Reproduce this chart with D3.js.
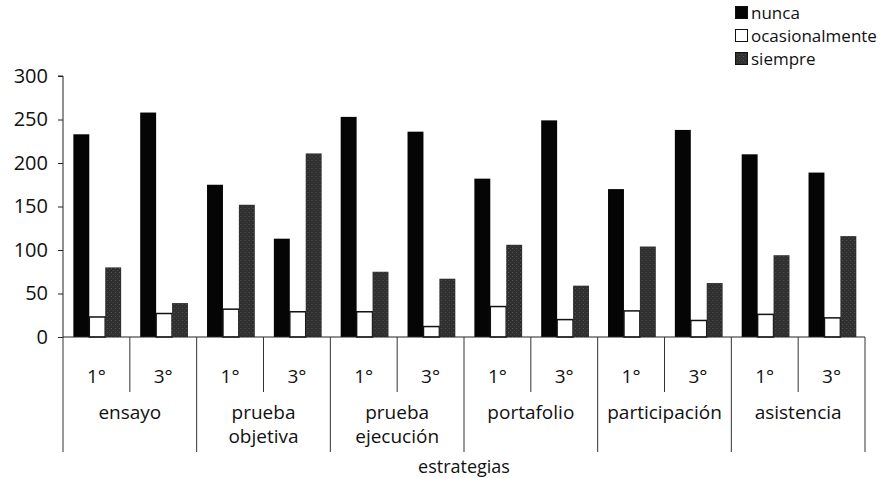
<!DOCTYPE html>
<html>
<head>
<meta charset="utf-8">
<script src="https://cdn.jsdelivr.net/npm/d3@7"></script>
<style>
  body { margin: 0; background: #fff; }
  svg { display: block; }
  text { font-family: "Open Sans", Lato, sans-serif; fill: #111; }
</style>
</head>
<body>
<svg id="chart" width="880" height="478"></svg>
<script>
const strategies = ["ensayo", "prueba objetiva", "prueba ejecución", "portafolio", "participación", "asistencia"];
const grades = ["1°", "3°"];
const seriesNames = ["nunca", "ocasionalmente", "siempre"];
const nunca          = [233, 258, 175, 113, 253, 236, 182, 249, 170, 238, 210, 189];
const ocasionalmente = [23, 27, 32, 29, 29, 12, 35, 20, 30, 19, 26, 22];
const siempre        = [80, 39, 152, 211, 75, 67, 106, 59, 104, 62, 94, 116];
const yTicks = [0, 50, 100, 150, 200, 250, 300];
const xTitle = "estrategias";

const seriesValues = [nunca, ocasionalmente, siempre];
const fills = ["#050505", "#ffffff", "#333"];

const svg = d3.select("#chart");
const margin = {left: 63, right: 15, top: 76, bottom: 141};
const W = 880, H = 478;
const plotBottom = H - margin.bottom;

const cats = [];
strategies.forEach(s => grades.forEach(g => cats.push(s + "|" + g)));

const x = d3.scaleBand().domain(cats).range([margin.left, W - margin.right]).padding(0);
const x1 = d3.scaleBand().domain(seriesNames).range([x.bandwidth() * 0.155, x.bandwidth() * 0.87]).padding(0);
const y = d3.scaleLinear().domain([0, 300]).range([plotBottom, margin.top]);

const defs = svg.append("defs");
const pat = defs.append("pattern").attr("id", "grain").attr("width", 4).attr("height", 4).attr("patternUnits", "userSpaceOnUse");
pat.append("rect").attr("width", 4).attr("height", 4).attr("fill", "#2f2f2f");
pat.append("rect").attr("x", 0).attr("y", 0).attr("width", 1).attr("height", 1).attr("fill", "#555");
pat.append("rect").attr("x", 2).attr("y", 2).attr("width", 1).attr("height", 1).attr("fill", "#474747");

const groups = svg.append("g").selectAll("g").data(cats).join("g")
  .attr("transform", d => `translate(${x(d)},0)`);
groups.selectAll("rect").data((d, i) => seriesNames.map((s, k) => ({s, v: seriesValues[k][i], k})))
  .join("rect")
  .attr("x", d => x1(d.s))
  .attr("width", x1.bandwidth())
  .attr("y", d => y(d.v))
  .attr("height", d => plotBottom - y(d.v))
  .attr("fill", d => d.k === 2 ? "url(#grain)" : fills[d.k])
  .attr("stroke", d => d.k === 1 ? "#111" : "none")
  .attr("stroke-width", 1.5);

const yAxis = d3.axisLeft(y).tickValues(yTicks).tickSize(5).tickPadding(10).tickFormat(d3.format("d"));
const ga = svg.append("g").attr("transform", `translate(${margin.left},0)`).call(yAxis);
ga.select(".domain").attr("stroke", "#222").attr("d", `M-5,${margin.top}H0V${plotBottom}`);
ga.selectAll(".tick line").attr("stroke", "#222");
ga.selectAll(".tick text").style("font-size", "20px").attr("fill", "#111");

svg.append("line").attr("x1", margin.left).attr("x2", W - margin.right)
  .attr("y1", plotBottom).attr("y2", plotBottom).attr("stroke", "#222").attr("stroke-width", 1.2);

const innerEnd = 392, groupEnd = 452;
const gx = svg.append("g");
cats.forEach((c, i) => {
  const xl = x(c);
  const isGroupStart = i % 2 === 0;
  gx.append("line").attr("x1", xl).attr("x2", xl).attr("y1", plotBottom)
    .attr("y2", isGroupStart ? groupEnd : innerEnd).attr("stroke", "#333").attr("stroke-width", 1);
  const [, g] = c.split("|");
  gx.append("text").attr("x", xl + x.bandwidth() / 2).attr("y", 383)
    .attr("text-anchor", "middle").style("font-size", "19px").text(g);
});
const xr = W - margin.right;
gx.append("line").attr("x1", xr).attr("x2", xr).attr("y1", plotBottom).attr("y2", groupEnd)
  .attr("stroke", "#333").attr("stroke-width", 1);

strategies.forEach((s, j) => {
  const cx = x(s + "|" + grades[0]) + x.bandwidth();
  const words = s.split(" ");
  const t = gx.append("text").attr("x", cx).attr("y", 419).attr("text-anchor", "middle").style("font-size", "19px");
  words.forEach((w, k) => t.append("tspan").attr("x", cx).attr("dy", k === 0 ? 0 : 24).text(w));
});

svg.append("text").attr("x", (margin.left + xr) / 2).attr("y", 473).attr("text-anchor", "middle")
  .style("font-size", "18px").text(xTitle);

const lg = svg.append("g").attr("transform", "translate(735,6)");
seriesNames.forEach((s, k) => {
  const row = lg.append("g").attr("transform", `translate(0,${k * 23})`);
  row.append("rect").attr("x", 0.5).attr("y", 0.5).attr("width", 12).attr("height", 12)
    .attr("fill", k === 2 ? "url(#grain)" : fills[k]).attr("stroke", "#111").attr("stroke-width", 1);
  row.append("text").attr("x", 16).attr("y", 12.5).style("font-size", "17px").text(s);
});
</script>
</body>
</html>
